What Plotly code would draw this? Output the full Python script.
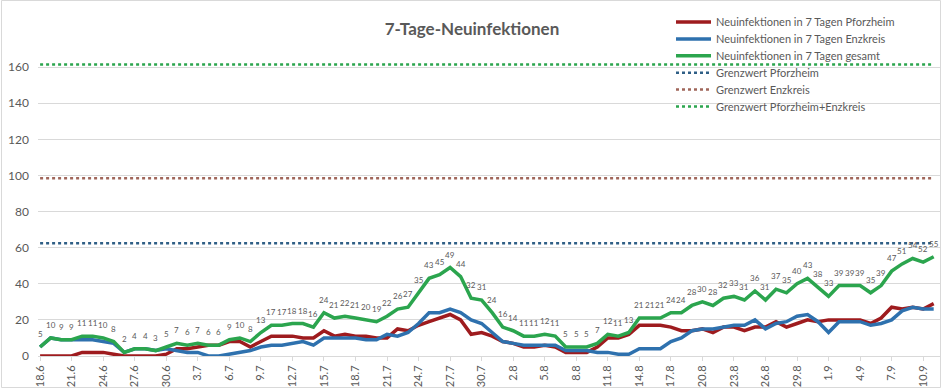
import plotly.graph_objects as go
import pandas as pd

# categories (daily dates 18.6 - 11.9)
dates = [f"{d.day}.{d.month}" for d in pd.date_range("2020-06-18", "2020-09-11")]

gesamt = [5, 10, 9, 9, 11, 11, 10, 8, 2, 4, 4, 3, 5,
          7, 6, 7, 6, 6, 9, 10, 8, 13, 17, 17, 18, 18, 16, 24, 21, 22, 21, 20, 19, 22, 26, 27, 35, 43, 45, 49, 44, 32, 31, 24,
          16, 14, 11, 11, 12, 11, 5, 5, 5, 7, 12, 11, 13, 21, 21, 21, 24, 24, 28, 30, 28, 32, 33, 31, 36, 31, 37, 35, 40, 43, 38,
          33, 39, 39, 39, 35, 39, 47, 51, 54, 52, 55]

pforzheim = [0, 0, 0, 0, 2, 2, 2, 1, 0, 0, 0, 0, 1,
             4, 4, 5, 6, 6, 8, 8, 5, 8, 11, 11, 11, 10, 10, 14, 11, 12, 11, 11, 10, 10, 15, 14, 17, 19, 21, 23, 20, 12, 13, 11,
             8, 7, 5, 5, 6, 5, 2, 2, 2, 5, 10, 10, 12, 17, 17, 17, 16, 14, 14, 15, 13, 16, 16, 14, 16, 16, 19, 16, 18, 20, 19,
             20, 20, 20, 20, 18, 21, 27, 26, 27, 26, 29]

enzkreis = [5, 10, 9, 9, 9, 9, 8, 7, 2, 4, 4, 3, 4,
            3, 2, 2, 0, 0, 1, 2, 3, 5, 6, 6, 7, 8, 6, 10, 10, 10, 10, 9, 9, 12, 11, 13, 18, 24, 24, 26, 24, 20, 18, 13,
            8, 7, 6, 6, 6, 6, 3, 3, 3, 2, 2, 1, 1, 4, 4, 4, 8, 10, 14, 15, 15, 16, 17, 17, 20, 15, 18, 19, 22, 23, 19,
            13, 19, 19, 19, 17, 18, 20, 25, 27, 26, 26]

grenzwert_pforzheim = 62.5
grenzwert_enzkreis = 98.5
grenzwert_gesamt = 161.5

y_ticks = [0, 20, 40, 60, 80, 100, 120, 140, 160]
x_tick_labels = dates[::3]

RED = "#9E1B1E"
BLUE = "#2E71AE"
GREEN = "#2BA54E"
DOT_PF = "#2F5F86"
DOT_ENZ = "#A0665A"
GREY = "#595959"
FONT = "Lato"

# plot area geometry (pixels)
L, R, T, B = 38, 2, 40, 33
W, H = 942, 389
PW, PH = W - L - R, H - T - B


def px_x(px):
    return (px - L) / PW


def px_y(py):
    return (H - B - py) / PH


series = [
    ("Neuinfektionen in 7 Tagen Pforzheim", pforzheim, RED, 3.5, "solid"),
    ("Neuinfektionen in 7 Tagen Enzkreis", enzkreis, BLUE, 3.5, "solid"),
    ("Neuinfektionen in 7 Tagen gesamt", gesamt, GREEN, 3.5, "solid"),
    ("Grenzwert Pforzheim", [grenzwert_pforzheim] * len(dates), DOT_PF, 2.5, "dot"),
    ("Grenzwert Enzkreis", [grenzwert_enzkreis] * len(dates), DOT_ENZ, 2.5, "dot"),
    ("Grenzwert Pforzheim+Enzkreis", [grenzwert_gesamt] * len(dates), GREEN, 2.5, "dot"),
]

fig = go.Figure()
for name, vals, col, w, dash in series:
    fig.add_trace(go.Scatter(x=dates, y=vals, mode="lines", name=name,
                             line=dict(color=col, width=w, dash=dash), showlegend=False))

# data labels of the total series
for i, v in enumerate(gesamt):
    fig.add_annotation(x=i, y=v, xref="x", yref="y", text=str(v), showarrow=False, yshift=13,
                       font=dict(size=8, color=GREY, family=FONT))

# manual legend
for k, (name, vals, col, w, dash) in enumerate(series):
    row_y = 22 + 16.9 * k
    fig.add_shape(type="line", xref="paper", yref="paper",
                  x0=px_x(676), x1=px_x(711), y0=px_y(row_y), y1=px_y(row_y),
                  line=dict(color=col, width=w, dash=dash))
    fig.add_annotation(xref="paper", yref="paper", x=px_x(714), y=px_y(row_y), xanchor="left", yanchor="middle",
                       text=name, showarrow=False, font=dict(size=11, color=GREY, family=FONT))

# chart border
fig.add_shape(type="rect", xref="paper", yref="paper",
              x0=px_x(1.5), x1=px_x(940.5), y0=px_y(387.5), y1=px_y(0.5),
              line=dict(color="#D9D9D9", width=1), fillcolor="rgba(0,0,0,0)", layer="below")

fig.update_layout(
    width=W, height=H,
    margin=dict(l=L, r=R, t=T, b=B, autoexpand=False),
    paper_bgcolor="white", plot_bgcolor="white",
    font=dict(family=FONT, color=GREY),
    title=dict(text="<b>7-Tage-Neuinfektionen</b>", x=472 / W, xanchor="center", y=1 - 29 / H, yanchor="middle",
               font=dict(size=17, color=GREY, family=FONT)),
    showlegend=False,
    xaxis=dict(type="category", range=[-0.2, 85.6], tickmode="array", tickvals=list(range(0, len(dates), 3)),
               ticktext=x_tick_labels,
               tickangle=-90, tickfont=dict(size=11, color=GREY, family=FONT), showgrid=False,
               showline=True, linecolor="#D9D9D9", linewidth=1, ticks="outside", ticklen=4, tickcolor="#D9D9D9",
               automargin=False, zeroline=False),
    yaxis=dict(range=[0, 175], tickmode="array", tickvals=y_ticks, showgrid=True, gridcolor="#D9D9D9", gridwidth=1,
               tickfont=dict(size=12, color=GREY, family=FONT), zeroline=False, showline=False,
               ticklabelstandoff=8, automargin=False),
)

fig.write_html("out.html", config={"displayModeBar": False},
               post_script="document.body.style.margin='0';document.body.style.overflow='hidden';")
